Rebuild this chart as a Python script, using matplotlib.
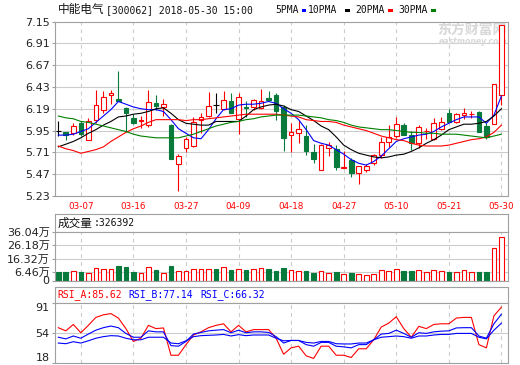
import matplotlib
matplotlib.use('Agg')
import matplotlib.pyplot as plt
from matplotlib.patches import Rectangle
import numpy as np

# ---------------- data ----------------
dates = ['03-02', '03-05', '03-06', '03-07', '03-08', '03-09', '03-12', '03-13', '03-14', '03-15',
         '03-16', '03-19', '03-20', '03-21', '03-22', '03-23', '03-26', '03-27', '03-28', '03-29',
         '03-30', '04-02', '04-03', '04-04', '04-09', '04-10', '04-11', '04-12', '04-13', '04-16',
         '04-17', '04-18', '04-19', '04-20', '04-23', '04-24', '04-25', '04-26', '04-27', '05-02',
         '05-03', '05-04', '05-07', '05-08', '05-09', '05-10', '05-11', '05-14', '05-15', '05-16',
         '05-17', '05-18', '05-21', '05-22', '05-23', '05-24', '05-25', '05-28', '05-29', '05-30']

opens = [5.94, 5.93, 5.92, 6.035, 5.85, 6.065, 6.175, 6.34, 6.295, 6.20,
         6.09, 6.054, 6.01, 6.25, 6.205, 6.01, 5.577, 5.754, 5.78, 6.065,
         6.11, 6.23, 6.186, 6.278, 6.08, 6.21, 6.205, 6.20, 6.305, 6.34,
         6.212, 5.90, 5.918, 5.89, 5.71, 5.515, 5.754, 5.742, 5.54, 5.625,
         5.485, 5.515, 5.595, 5.68, 5.82, 5.89, 6.01, 5.90, 5.81, 5.94,
         5.86, 5.966, 6.14, 6.04, 6.12, 6.13, 6.157, 5.997, 6.02, 6.34]
closes = [5.94, 5.90, 6.00, 5.91, 6.05, 6.23, 6.32, 6.36, 6.28, 6.14,
          6.035, 6.07, 6.26, 6.22, 6.245, 5.64, 5.668, 5.853, 6.046, 6.095,
          6.22, 6.23, 6.285, 6.146, 6.32, 6.20, 6.285, 6.28, 6.285, 6.168,
          5.864, 5.93, 5.966, 5.727, 5.632, 5.79, 5.79, 5.545, 5.55, 5.485,
          5.56, 5.56, 5.68, 5.82, 5.88, 6.02, 5.90, 5.81, 5.99, 5.945,
          6.03, 6.04, 6.046, 6.13, 6.14, 6.135, 5.937, 5.88, 6.46, 7.11]
highs = [6.05, 5.93, 6.03, 6.05, 6.09, 6.40, 6.39, 6.40, 6.61, 6.21,
         6.13, 6.11, 6.40, 6.34, 6.30, 6.02, 5.69, 5.88, 6.095, 6.14,
         6.37, 6.36, 6.38, 6.36, 6.36, 6.28, 6.30, 6.41, 6.39, 6.36,
         6.23, 6.03, 6.065, 6.01, 5.80, 5.80, 5.82, 5.79, 5.72, 5.643,
         5.56, 5.58, 5.69, 5.88, 6.01, 6.10, 6.03, 5.94, 6.01, 5.98,
         6.09, 6.10, 6.186, 6.14, 6.20, 6.165, 6.17, 6.03, 6.46, 7.11]
lows = [5.89, 5.85, 5.90, 5.89, 5.85, 6.03, 6.14, 6.24, 6.28, 5.93,
        6.02, 5.98, 5.99, 6.18, 6.11, 5.64, 5.29, 5.71, 5.77, 5.92,
        6.10, 6.14, 6.175, 6.14, 5.91, 6.10, 6.175, 6.19, 6.28, 6.065,
        5.727, 5.71, 5.81, 5.68, 5.595, 5.515, 5.67, 5.52, 5.54, 5.434,
        5.36, 5.49, 5.57, 5.65, 5.77, 5.87, 5.90, 5.74, 5.76, 5.86,
        5.85, 5.96, 6.04, 6.03, 6.08, 6.084, 5.93, 5.86, 6.02, 6.23]

ma5 = [5.90, 5.90, 5.91, 5.94, 5.97, 6.04, 6.11, 6.18, 6.27, 6.24,
       6.21, 6.19, 6.18, 6.18, 6.16, 6.07, 5.97, 5.92, 5.87, 5.86,
       5.96, 6.08, 6.18, 6.19, 6.23, 6.24, 6.24, 6.25, 6.27, 6.25,
       6.19, 6.14, 6.07, 5.96, 5.84, 5.81, 5.79, 5.74, 5.69, 5.63,
       5.59, 5.57, 5.61, 5.67, 5.75, 5.83, 5.86, 5.88, 5.90, 5.91,
       5.94, 5.99, 6.03, 6.07, 6.10, 6.10, 6.10, 6.03, 6.12, 6.33]
ma10 = [5.77, 5.80, 5.83, 5.87, 5.92, 5.96, 6.01, 6.05, 6.10, 6.11,
        6.13, 6.14, 6.16, 6.19, 6.20, 6.14, 6.07, 6.03, 6.02, 6.01,
        6.01, 6.05, 6.05, 6.05, 6.05, 6.11, 6.18, 6.21, 6.23, 6.24,
        6.22, 6.18, 6.16, 6.11, 6.06, 6.00, 5.96, 5.88, 5.79, 5.74,
        5.70, 5.68, 5.66, 5.65, 5.66, 5.68, 5.69, 5.72, 5.76, 5.81,
        5.85, 5.90, 5.96, 5.99, 6.02, 6.02, 6.03, 6.05, 6.11, 6.19]
ma20 = [5.78, 5.75, 5.73, 5.70, 5.72, 5.74, 5.77, 5.83, 5.88, 5.93,
        5.97, 6.00, 6.04, 6.07, 6.07, 6.07, 6.07, 6.06, 6.07, 6.07,
        6.08, 6.09, 6.10, 6.11, 6.12, 6.13, 6.13, 6.13, 6.13, 6.13,
        6.12, 6.11, 6.10, 6.07, 6.06, 6.05, 6.05, 6.04, 6.01, 5.99,
        5.97, 5.95, 5.92, 5.89, 5.87, 5.85, 5.84, 5.81, 5.79, 5.78,
        5.78, 5.78, 5.79, 5.81, 5.83, 5.85, 5.86, 5.88, 5.93, 6.01]
ma30 = [6.11, 6.09, 6.08, 6.05, 6.04, 6.02, 6.00, 5.98, 5.96, 5.94,
        5.91, 5.89, 5.88, 5.87, 5.87, 5.87, 5.87, 5.89, 5.91, 5.94,
        5.97, 6.00, 6.02, 6.04, 6.05, 6.07, 6.08, 6.10, 6.11, 6.12,
        6.12, 6.12, 6.12, 6.11, 6.10, 6.09, 6.07, 6.06, 6.04, 6.01,
        5.99, 5.98, 5.97, 5.96, 5.96, 5.95, 5.94, 5.93, 5.93, 5.92,
        5.92, 5.91, 5.91, 5.91, 5.90, 5.89, 5.88, 5.87, 5.89, 5.91]

volume = [6.32, 6.32, 6.83, 6.32, 5.82, 9.36, 8.85, 8.85, 10.62, 9.86,
          6.32, 5.82, 10.37, 7.59, 5.82, 10.62, 6.83, 6.83, 8.60, 8.35,
          8.85, 8.35, 10.37, 7.59, 8.60, 7.59, 8.35, 9.61, 8.35, 6.83,
          9.10, 8.09, 6.83, 6.83, 5.31, 6.83, 5.82, 6.07, 5.06, 5.31,
          5.06, 4.30, 5.06, 7.59, 7.34, 8.35, 7.08, 7.08, 7.59, 6.32,
          7.59, 6.83, 6.07, 6.07, 7.59, 6.07, 6.32, 6.32, 24.0, 32.6392]

rsi_a = [60.9, 57.1, 64.8, 54.8, 63.7, 73.3, 76.4, 77.9, 72.5, 59.8,
         44.3, 48.2, 63.7, 59.8, 60.6, 27.7, 27.7, 40.5, 52.1, 55.9,
         60.9, 63.7, 65.6, 55.9, 63.7, 55.9, 58.6, 58.6, 58.6, 48.2,
         28.9, 36.6, 38.6, 27.0, 23.9, 38.6, 38.6, 27.7, 27.7, 25.0,
         35.5, 35.5, 46.3, 61.7, 66.4, 74.1, 59.8, 49.4, 62.5, 59.8,
         64.8, 65.6, 65.6, 72.5, 73.3, 73.3, 40.5, 36.6, 75.2, 85.62]
rsi_b = [49.4, 47.4, 50.9, 48.2, 53.2, 57.9, 60.9, 62.9, 60.9, 54.0,
         49.4, 49.4, 57.1, 55.9, 55.9, 39.3, 38.6, 44.3, 53.2, 55.2,
         57.1, 57.9, 58.6, 54.8, 57.9, 54.8, 55.9, 55.9, 55.2, 50.1,
         42.4, 45.5, 45.5, 40.5, 38.6, 43.2, 43.2, 38.6, 37.8, 36.6,
         40.5, 40.5, 46.3, 53.2, 54.0, 57.9, 54.0, 49.4, 54.8, 54.0,
         55.9, 56.7, 57.1, 60.6, 60.9, 60.9, 50.9, 48.2, 65.6, 77.14]
rsi_c = [42.4, 41.6, 44.0, 42.4, 45.1, 48.2, 50.1, 51.3, 50.9, 48.2,
         46.3, 46.3, 49.4, 49.4, 49.4, 42.4, 41.6, 45.1, 50.1, 51.3,
         51.7, 52.1, 52.8, 50.9, 52.5, 51.3, 52.1, 52.1, 52.1, 48.2,
         45.1, 45.5, 45.5, 43.2, 42.4, 44.3, 44.3, 41.6, 41.3, 41.3,
         42.4, 42.4, 46.3, 49.4, 50.1, 50.9, 50.1, 48.2, 50.9, 50.9,
         52.1, 52.8, 52.8, 54.0, 54.0, 54.0, 49.4, 47.4, 57.9, 66.32]

price_ticks = [5.23, 5.47, 5.71, 5.95, 6.19, 6.43, 6.67, 6.91, 7.15]
vol_ticks = [0, 6.46, 16.32, 26.18, 36.04]
vol_tick_labels = ['0', '6.46万', '16.32万', '26.18万', '36.04万']
rsi_ticks = [18, 54, 91]

title_cn = '中能电气'
title_rest = '[300062] 2018-05-30 15:00'
ma_names = ['5PMA', '10PMA', '20PMA', '30PMA']
vol_name = '成交量'
vol_last = ':326392'
rsi_labels = ['RSI_A:85.62', 'RSI_B:77.14', 'RSI_C:66.32']

# ---------------- style ----------------
RED = '#ff0000'
GREEN = '#087a3c'
BLUE = '#0000ff'
MA_COLORS = [BLUE, '#000000', RED, '#008000']
SPINE = '#a0a0a0'
GRID = '#cccccc'
W, H = 520, 365
X0, X1 = 54.5, 507.5
BW = 0.62
LW = 0.8

fig = plt.figure(figsize=(W / 100, H / 100), dpi=100)
fig.patch.set_facecolor('white')


def px_rect(x0, y0, x1, y1):
    return [x0 / W, 1 - y1 / H, (x1 - x0) / W, (y1 - y0) / H]


n = len(dates)
idx = np.arange(n)
date_pos = idx[3::7]

ax = fig.add_axes(px_rect(X0, 21.5, X1, 196))
axvh = fig.add_axes(px_rect(X0, 214, X1, 232))
axv = fig.add_axes(px_rect(X0, 232, X1, 280.5))
axrh = fig.add_axes(px_rect(X0, 287.3, X1, 302.7))
axr = fig.add_axes(px_rect(X0, 302.7, X1, 363.3))


def style(a, header=False):
    for s in a.spines.values():
        s.set_color(SPINE)
        s.set_linewidth(LW)
    a.set_xlim(-0.506, 59.81)
    if header:
        a.set_xticks([])
        a.set_yticks([])
        return
    a.tick_params(axis='y', direction='out', length=2.5, width=LW, color=SPINE,
                  pad=1, labelsize=8, labelcolor='#222222')
    a.tick_params(axis='x', length=0, labelbottom=False)
    for p in date_pos:
        a.axvline(p, color=GRID, lw=LW, ls=(0, (3.5, 3.5)), zorder=0.5)


for a in (ax, axv, axr):
    style(a)
for a in (axvh, axrh):
    style(a, header=True)

# ---------------- main candles ----------------
ax.set_ylim(price_ticks[0], price_ticks[-1])
ax.set_yticks(price_ticks)
ax.set_yticklabels(['%.2f' % t for t in price_ticks])
for t in price_ticks[1:-1]:
    ax.axhline(t, color=GRID, lw=LW, zorder=0.5)

ax.set_xticks(date_pos)
ax.set_xticklabels([dates[p] for p in date_pos])
ax.tick_params(axis='x', labelbottom=True, labelsize=6.3, labelcolor=RED, pad=4)

vol_cols, vol_faces = [], []
for i in idx:
    o, h, l, c = opens[i], highs[i], lows[i], closes[i]
    top, bot = max(o, c), min(o, c)
    if c > o:
        col, face = RED, 'white'
    elif c < o:
        col, face = GREEN, GREEN
    else:
        col, face = '#000000', '#000000'
    if c == o:
        ax.vlines(i, l, h, color=col, lw=LW, zorder=2)
        ax.hlines(o, i - BW / 2 - 0.05, i + BW / 2 + 0.05, color=col, lw=LW, zorder=2)
    else:
        ax.vlines(i, top, h, color=col, lw=LW, zorder=2)
        ax.vlines(i, l, bot, color=col, lw=LW, zorder=2)
        ax.bar(i, top - bot, bottom=bot, width=BW, facecolor=face, edgecolor=col,
               lw=LW, zorder=2)
    vol_cols.append(RED if c > o else GREEN)
    vol_faces.append('white' if c > o else GREEN)

for ma, colr in zip([ma5, ma10, ma20, ma30], MA_COLORS):
    ax.plot(idx, ma, color=colr, lw=LW, zorder=3)

# watermark
ax.text(0.845, 0.954, '东方财富网', transform=ax.transAxes, fontsize=10,
        family=['Noto Sans CJK SC'], fontweight='bold', color='#d8d8d8',
        ha='left', va='center', zorder=0.6)
ax.text(0.848, 0.888, 'eastmoney.com', transform=ax.transAxes, fontsize=5.6,
        family=['DejaVu Sans'], fontweight='bold', style='italic', color='#d8d8d8',
        ha='left', va='center', zorder=0.6)

# ---------------- volume ----------------
axv.set_ylim(vol_ticks[0], vol_ticks[-1])
axv.set_yticks(vol_ticks)
axv.set_yticklabels(vol_tick_labels, family=['DejaVu Sans', 'Noto Sans CJK SC'])
for t in vol_ticks[1:-1]:
    axv.axhline(t, color=GRID, lw=LW, zorder=0.5)
axv.bar(idx, volume, width=BW, color=vol_faces, edgecolor=vol_cols, lw=LW, zorder=2)

# ---------------- RSI ----------------
axr.set_ylim(rsi_ticks[0], rsi_ticks[-1])
axr.set_yticks(rsi_ticks)
axr.set_yticklabels([str(t) for t in rsi_ticks])
labs = axr.get_yticklabels()
labs[0].set_verticalalignment('bottom')
labs[-1].set_verticalalignment('top')
axr.axhline(rsi_ticks[1], color=GRID, lw=LW, zorder=0.5)
axr.plot(idx, rsi_a, color=RED, lw=LW, zorder=3)
axr.plot(idx, rsi_b, color=BLUE, lw=LW, zorder=3)
axr.plot(idx, rsi_c, color=BLUE, lw=LW, zorder=3)

# ---------------- header texts ----------------
MONO = ['DejaVu Sans Mono', 'Noto Sans CJK SC']
CJK = ['Noto Sans CJK SC', 'DejaVu Sans']


def ftext(x, y, s, **kw):
    fig.text(x / W, 1 - y / H, s, va='center', ha='left', **kw)


ftext(57.5, 10, title_cn, family=CJK, fontsize=8.4, color='#111111')
ftext(106, 10, title_rest, family=MONO, fontsize=7.0, color='#111111')

leg_x = [275, 308, 355, 398]
sq_x = [301.7, 345, 388, 431]
for name, lx, sx, colr in zip(ma_names, leg_x, sq_x, MA_COLORS):
    ftext(lx, 10, name, family=MONO, fontsize=7.0, color='#111111')
    fig.patches.append(Rectangle((sx / W, 1 - 12 / H), 4.5 / W, 3 / H, facecolor=colr,
                                 edgecolor='none', transform=fig.transFigure, figure=fig))

ftext(57.5, 223.3, vol_name, family=CJK, fontsize=8.4, color='#111111')
ftext(93.3, 223.3, vol_last, family=MONO, fontsize=7.0, color='#111111')

for s, x, colr in zip(rsi_labels, [57, 128.3, 200], [RED, BLUE, BLUE]):
    ftext(x, 295, s, family=MONO, fontsize=7.0, color=colr)

fig.savefig('out.png', dpi=100, facecolor='white')
